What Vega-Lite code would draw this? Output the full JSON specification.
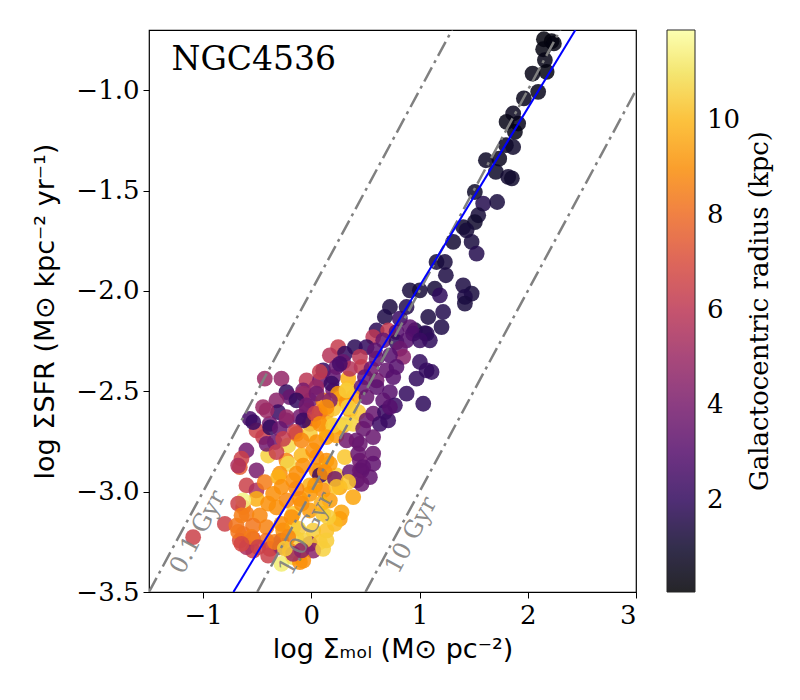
{
 "$schema": "https://vega.github.io/schema/vega-lite/v6.json",
 "width": 487, "height": 562,
 "autosize": {"type": "none"},
 "padding": {"left": 149, "top": 30, "right": 164, "bottom": 108},
 "background": "white",
 "title": {"text": "Galactocentric radius (kpc)", "orient": "right", "angle": 270, "anchor": "middle", "frame": "group",
           "font": "DejaVu Serif", "fontSize": 26, "fontWeight": "normal", "color": "black", "offset": 6, "baseline": "bottom"},
 "datasets": {
  "pts": [
   {"x":2.149,"y":-0.746,"r":0.3},{"x":2.220,"y":-0.756,"r":0.3},{"x":2.241,"y":-0.767,"r":0.4},{"x":2.142,"y":-0.796,"r":0.4},
   {"x":2.158,"y":-0.850,"r":0.5},{"x":2.044,"y":-0.917,"r":0.5},{"x":2.174,"y":-0.909,"r":0.4},{"x":2.096,"y":-1.008,"r":0.6},
   {"x":1.964,"y":-1.041,"r":0.6},{"x":1.865,"y":-1.116,"r":0.7},{"x":1.804,"y":-1.158,"r":0.5},{"x":1.911,"y":-1.166,"r":0.6},
   {"x":1.881,"y":-1.208,"r":0.5},{"x":1.798,"y":-1.274,"r":0.7},{"x":1.865,"y":-1.283,"r":1.0},{"x":1.613,"y":-1.349,"r":0.8},
   {"x":1.736,"y":-1.341,"r":0.7},{"x":1.705,"y":-1.407,"r":0.9},{"x":1.819,"y":-1.432,"r":1.1},{"x":1.853,"y":-1.439,"r":1.0},
   {"x":1.511,"y":-1.507,"r":0.9},{"x":1.588,"y":-1.565,"r":1.6},{"x":1.717,"y":-1.557,"r":1.3},{"x":1.542,"y":-1.623,"r":1.2},
   {"x":1.511,"y":-1.657,"r":1.0},{"x":1.403,"y":-1.682,"r":1.0},{"x":1.434,"y":-1.698,"r":1.2},{"x":1.311,"y":-1.756,"r":1.1},
   {"x":1.481,"y":-1.756,"r":1.3},{"x":1.527,"y":-1.814,"r":1.6},{"x":1.157,"y":-1.856,"r":1.2},{"x":1.234,"y":-1.856,"r":1.3},
   {"x":1.243,"y":-1.922,"r":1.4},{"x":1.403,"y":-1.972,"r":1.4},{"x":1.481,"y":-2.013,"r":1.3},{"x":1.419,"y":-2.030,"r":1.5},
   {"x":1.419,"y":-2.063,"r":1.3},{"x":0.910,"y":-1.997,"r":1.3},{"x":1.003,"y":-1.997,"r":1.2},{"x":1.141,"y":-1.989,"r":1.2},
   {"x":1.188,"y":-2.022,"r":1.9},{"x":0.726,"y":-2.080,"r":1.4},{"x":0.880,"y":-2.080,"r":1.6},{"x":0.679,"y":-2.130,"r":1.5},
   {"x":1.080,"y":-2.130,"r":1.4},{"x":1.218,"y":-2.105,"r":1.6},{"x":1.203,"y":-2.180,"r":1.5},{"x":0.957,"y":-2.196,"r":1.4},
   {"x":1.049,"y":-2.211,"r":1.6},
   {"x":0.818,"y":-2.138,"r":2.2},{"x":0.603,"y":-2.197,"r":1.8},{"x":0.710,"y":-2.197,"r":6.2},{"x":0.787,"y":-2.205,"r":3.0},
   {"x":0.911,"y":-2.180,"r":3.2},{"x":0.941,"y":-2.213,"r":2.8},{"x":1.065,"y":-2.213,"r":1.8},{"x":1.095,"y":-2.246,"r":1.9},
   {"x":0.572,"y":-2.230,"r":6.0},{"x":0.664,"y":-2.246,"r":3.5},{"x":0.787,"y":-2.255,"r":2.0},{"x":0.880,"y":-2.246,"r":3.0},
   {"x":1.003,"y":-2.246,"r":2.2},{"x":0.248,"y":-2.280,"r":6.3},{"x":0.402,"y":-2.280,"r":1.8},{"x":0.310,"y":-2.313,"r":2.0},
   {"x":0.510,"y":-2.280,"r":2.0},{"x":0.587,"y":-2.296,"r":3.2},{"x":0.818,"y":-2.288,"r":3.6},{"x":0.849,"y":-2.329,"r":4.5},
   {"x":0.171,"y":-2.321,"r":5.8},{"x":0.294,"y":-2.354,"r":3.5},{"x":0.449,"y":-2.329,"r":6.0},{"x":0.603,"y":-2.338,"r":3.5},
   {"x":0.726,"y":-2.321,"r":3.0},{"x":1.003,"y":-2.354,"r":2.0},{"x":1.065,"y":-2.396,"r":2.1},{"x":1.111,"y":-2.404,"r":2.0},
   {"x":0.110,"y":-2.396,"r":2.1},{"x":0.464,"y":-2.379,"r":6.2},{"x":0.556,"y":-2.388,"r":3.8},{"x":0.695,"y":-2.396,"r":3.4},
   {"x":0.787,"y":-2.379,"r":3.0},{"x":0.972,"y":-2.437,"r":2.0},{"x":-0.044,"y":-2.446,"r":6.0},{"x":0.079,"y":-2.446,"r":3.8},
   {"x":0.202,"y":-2.429,"r":3.3},{"x":0.341,"y":-2.437,"r":9.8},{"x":0.356,"y":-2.388,"r":5.8},{"x":0.495,"y":-2.429,"r":3.5},
   {"x":0.603,"y":-2.446,"r":3.8},{"x":0.757,"y":-2.429,"r":3.0},{"x":-0.075,"y":-2.496,"r":4.0},{"x":0.048,"y":-2.479,"r":5.0},
   {"x":0.202,"y":-2.496,"r":3.8},{"x":0.341,"y":-2.487,"r":10.2},{"x":0.464,"y":-2.479,"r":3.5},{"x":0.603,"y":-2.479,"r":3.2},
   {"x":0.726,"y":-2.504,"r":3.0},{"x":0.880,"y":-2.512,"r":2.0},{"x":-0.014,"y":-2.546,"r":3.8},{"x":0.110,"y":-2.546,"r":8.8},
   {"x":0.264,"y":-2.537,"r":10.5},{"x":0.387,"y":-2.529,"r":9.5},{"x":0.510,"y":-2.529,"r":3.5},{"x":0.664,"y":-2.546,"r":3.2},
   {"x":0.772,"y":-2.570,"r":2.2},{"x":1.034,"y":-2.562,"r":1.9},{"x":-0.044,"y":-2.595,"r":5.0},{"x":0.140,"y":-2.604,"r":8.7},
   {"x":0.202,"y":-2.587,"r":10.3},{"x":0.356,"y":-2.595,"r":9.3},{"x":0.433,"y":-2.604,"r":10.4},{"x":0.572,"y":-2.612,"r":3.5},
   {"x":0.680,"y":-2.604,"r":2.2},{"x":-0.014,"y":-2.662,"r":6.5},{"x":0.156,"y":-2.662,"r":10.2},{"x":0.294,"y":-2.670,"r":9.0},
   {"x":0.387,"y":-2.662,"r":10.6},{"x":0.510,"y":-2.645,"r":3.5},{"x":0.633,"y":-2.662,"r":2.3},{"x":0.710,"y":-2.645,"r":2.2},
   {"x":-0.430,"y":-2.437,"r":5.0},{"x":-0.276,"y":-2.437,"r":4.8},{"x":0.078,"y":-2.404,"r":6.3},{"x":0.232,"y":-2.379,"r":3.5},
   {"x":-0.230,"y":-2.504,"r":2.0},{"x":-0.199,"y":-2.529,"r":3.5},{"x":-0.076,"y":-2.512,"r":5.0},{"x":0.186,"y":-2.462,"r":2.2},
   {"x":0.248,"y":-2.512,"r":9.3},{"x":-0.569,"y":-2.637,"r":2.5},{"x":-0.446,"y":-2.579,"r":5.0},{"x":-0.322,"y":-2.545,"r":4.5},
   {"x":-0.307,"y":-2.604,"r":2.2},{"x":-0.137,"y":-2.545,"r":2.0},{"x":-0.045,"y":-2.570,"r":3.8},{"x":0.078,"y":-2.604,"r":8.5},
   {"x":0.325,"y":-2.554,"r":9.0},{"x":-0.507,"y":-2.695,"r":6.5},{"x":-0.384,"y":-2.662,"r":3.8},{"x":-0.230,"y":-2.645,"r":3.5},
   {"x":-0.107,"y":-2.628,"r":3.8},{"x":0.017,"y":-2.653,"r":8.5},{"x":0.263,"y":-2.678,"r":10.5},{"x":-0.600,"y":-2.795,"r":3.8},
   {"x":-0.446,"y":-2.728,"r":6.3},{"x":-0.338,"y":-2.753,"r":3.5},{"x":-0.214,"y":-2.770,"r":10.8},{"x":-0.137,"y":-2.712,"r":8.5},
   {"x":-0.014,"y":-2.712,"r":10.5},{"x":0.140,"y":-2.695,"r":10.5},{"x":0.232,"y":-2.720,"r":9.3},{"x":0.417,"y":-2.745,"r":3.5},
   {"x":0.571,"y":-2.728,"r":3.5},{"x":-0.646,"y":-2.836,"r":6.5},{"x":-0.661,"y":-2.878,"r":7.5},{"x":-0.507,"y":-2.894,"r":4.0},
   {"x":-0.399,"y":-2.820,"r":10.6},{"x":-0.230,"y":-2.845,"r":8.8},{"x":-0.214,"y":-2.861,"r":10.8},{"x":-0.091,"y":-2.820,"r":10.0},
   {"x":0.017,"y":-2.795,"r":9.0},{"x":0.140,"y":-2.845,"r":9.0},{"x":0.309,"y":-2.828,"r":10.3},{"x":0.448,"y":-2.845,"r":3.8},
   {"x":0.571,"y":-2.811,"r":3.5},{"x":-0.291,"y":-2.911,"r":9.0},{"x":-0.137,"y":-2.911,"r":9.0},{"x":0.078,"y":-2.894,"r":10.5},
   {"x":0.232,"y":-2.919,"r":10.5},{"x":0.448,"y":-2.894,"r":3.8},
   {"x":0.048,"y":-2.512,"r":3.8},{"x":0.171,"y":-2.546,"r":4.2},{"x":0.325,"y":-2.496,"r":10.5},{"x":-0.537,"y":-2.654,"r":2.2},
   {"x":-0.414,"y":-2.595,"r":5.0},{"x":-0.229,"y":-2.629,"r":4.8},{"x":-0.075,"y":-2.645,"r":2.2},{"x":0.033,"y":-2.612,"r":6.3},
   {"x":0.140,"y":-2.579,"r":9.0},{"x":0.341,"y":-2.579,"r":10.6},{"x":-0.380,"y":-2.680,"r":2.0},{"x":-0.291,"y":-2.687,"r":3.5},
   {"x":-0.152,"y":-2.703,"r":6.5},{"x":0.079,"y":-2.662,"r":9.0},{"x":0.202,"y":-2.670,"r":10.5},{"x":0.310,"y":-2.662,"r":10.8},
   {"x":0.479,"y":-2.687,"r":3.5},{"x":-0.414,"y":-2.762,"r":3.8},{"x":-0.260,"y":-2.737,"r":6.3},{"x":-0.091,"y":-2.745,"r":8.8},
   {"x":0.048,"y":-2.753,"r":9.0},{"x":0.140,"y":-2.728,"r":9.3},{"x":0.325,"y":-2.745,"r":3.8},{"x":0.448,"y":-2.762,"r":3.5},
   {"x":-0.322,"y":-2.803,"r":6.3},{"x":0.048,"y":-2.828,"r":9.0},{"x":0.171,"y":-2.861,"r":9.3},{"x":0.433,"y":-2.811,"r":3.5},
   {"x":0.048,"y":-2.895,"r":9.0},{"x":0.171,"y":-2.928,"r":10.5},{"x":0.464,"y":-2.895,"r":3.5},
   {"x":-0.676,"y":-2.870,"r":5.5},{"x":-0.075,"y":-2.870,"r":9.0},{"x":0.079,"y":-2.919,"r":2.2},{"x":0.356,"y":-2.903,"r":3.5},
   {"x":0.479,"y":-2.878,"r":3.3},{"x":0.541,"y":-2.928,"r":3.3},{"x":-0.599,"y":-2.969,"r":6.5},{"x":-0.507,"y":-2.994,"r":5.5},
   {"x":-0.430,"y":-2.953,"r":8.5},{"x":-0.168,"y":-2.944,"r":9.0},{"x":-0.014,"y":-2.969,"r":9.8},{"x":0.109,"y":-2.994,"r":9.0},
   {"x":0.263,"y":-2.978,"r":9.5},{"x":0.387,"y":-3.027,"r":9.5},{"x":0.464,"y":-2.961,"r":3.5},{"x":-0.630,"y":-3.077,"r":8.3},
   {"x":-0.507,"y":-3.036,"r":9.8},{"x":-0.353,"y":-3.011,"r":9.0},{"x":-0.229,"y":-3.044,"r":8.8},{"x":-0.106,"y":-3.036,"r":9.0},
   {"x":-0.014,"y":-3.011,"r":9.2},{"x":0.171,"y":-3.044,"r":9.3},{"x":0.279,"y":-3.103,"r":9.5},{"x":0.263,"y":-3.136,"r":9.3},
   {"x":-0.799,"y":-3.161,"r":6.5},{"x":-0.692,"y":-3.169,"r":8.3},{"x":-0.599,"y":-3.111,"r":8.5},{"x":-0.476,"y":-3.119,"r":8.8},
   {"x":-0.322,"y":-3.078,"r":9.0},{"x":-0.168,"y":-3.111,"r":10.3},{"x":-0.014,"y":-3.094,"r":9.3},{"x":0.109,"y":-3.111,"r":10.3},
   {"x":0.217,"y":-3.161,"r":10.0},{"x":-0.630,"y":-3.211,"r":8.0},{"x":-0.538,"y":-3.169,"r":8.3},{"x":-0.414,"y":-3.177,"r":8.7},
   {"x":-0.276,"y":-3.161,"r":9.0},{"x":-0.168,"y":-3.177,"r":10.5},{"x":0.017,"y":-3.194,"r":10.5},{"x":0.140,"y":-3.194,"r":10.2},
   {"x":-0.661,"y":-3.244,"r":7.0},{"x":-0.538,"y":-3.235,"r":6.8},{"x":-0.414,"y":-3.244,"r":8.2},{"x":-0.276,"y":-3.244,"r":4.0},
   {"x":-0.137,"y":-3.235,"r":10.6},{"x":-0.014,"y":-3.260,"r":4.0},{"x":0.079,"y":-3.252,"r":10.3},{"x":-0.538,"y":-3.294,"r":6.5},
   {"x":-0.383,"y":-3.285,"r":6.8},{"x":-0.291,"y":-3.277,"r":4.5},{"x":-0.199,"y":-3.294,"r":8.5},{"x":-0.106,"y":-3.310,"r":10.6},
   {"x":0.017,"y":-3.294,"r":4.5},{"x":-0.399,"y":-3.319,"r":6.5},{"x":-0.276,"y":-3.360,"r":11.3},{"x":-0.168,"y":-3.327,"r":10.8},
   {"x":-0.075,"y":-3.344,"r":9.0},
   {"x":-1.092,"y":-3.227,"r":6.5},{"x":-0.630,"y":-3.044,"r":11.5},{"x":0.263,"y":-2.363,"r":2.5},{"x":-0.599,"y":-3.277,"r":5.5},
   {"x":-0.106,"y":-3.351,"r":9.0},{"x":-0.168,"y":-3.310,"r":5.0},{"x":0.109,"y":-3.285,"r":10.6},{"x":0.140,"y":-3.243,"r":10.5},
   {"x":0.418,"y":-2.944,"r":3.5},{"x":0.572,"y":-2.861,"r":3.3},{"x":0.726,"y":-2.579,"r":3.0},
   {"x":-0.306,"y":-2.927,"r":9.8},{"x":0.125,"y":-2.902,"r":9.0},{"x":0.218,"y":-2.936,"r":3.8},{"x":0.341,"y":-2.952,"r":10.3},
   {"x":-0.275,"y":-2.977,"r":9.0},{"x":-0.137,"y":-2.985,"r":8.8},{"x":0.033,"y":-2.969,"r":9.2},{"x":0.233,"y":-2.977,"r":10.2},
   {"x":-0.676,"y":-3.060,"r":6.5},{"x":-0.399,"y":-3.060,"r":9.0},{"x":-0.090,"y":-3.060,"r":9.0},{"x":0.094,"y":-3.060,"r":9.8},
   {"x":-0.645,"y":-3.118,"r":8.5},{"x":-0.183,"y":-3.127,"r":9.0},{"x":0.156,"y":-3.127,"r":10.5},{"x":-0.676,"y":-3.201,"r":8.3},
   {"x":-0.553,"y":-3.226,"r":8.5},{"x":-0.260,"y":-3.193,"r":9.0},{"x":-0.121,"y":-3.185,"r":10.5},{"x":-0.645,"y":-3.260,"r":6.8},
   {"x":-0.491,"y":-3.276,"r":6.5},{"x":-0.337,"y":-3.251,"r":8.5},{"x":-0.214,"y":-3.226,"r":8.8},{"x":-0.060,"y":-3.243,"r":10.6},
   {"x":-0.244,"y":-3.284,"r":10.5},{"x":-0.090,"y":-3.293,"r":4.5}
  ],
  "tdep": [
   {"x":-1.5,"y":-3.5,"x2":1.30,"y2":-0.70},
   {"x":-0.5,"y":-3.5,"x2":2.30,"y2":-0.70},
   {"x":0.5,"y":-3.5,"x2":3.0,"y2":-1.0}
  ],
  "fit": [
   {"x":-0.72,"y":-3.5,"x2":2.44,"y2":-0.70}
  ],
  "labels": [
   {"x":-1.046,"y":-3.202,"t":"0.1 Gyr"},
   {"x":-0.044,"y":-3.21,"t":"1.0 Gyr"},
   {"x":0.926,"y":-3.218,"t":"10 Gyr"}
  ],
  "name": [
   {"x":-1.292,"y":-0.900,"t":"NGC4536"}
  ]
 },
 "config": {
  "view": {"stroke": "black", "strokeWidth": 1.2},
  "axis": {
   "grid": false, "domain": false, "tickColor": "black", "tickSize": 6, "tickWidth": 1,
   "labelFont": "DejaVu Serif", "labelFontSize": 26, "labelColor": "black", "labelPadding": 4,
   "titleFont": "DejaVu Sans", "titleFontSize": 27, "titleFontWeight": "normal", "titleColor": "black"
  }
 },
 "encoding": {
  "x": {"field": "x", "type": "quantitative",
        "scale": {"domain": [-1.5, 3], "nice": false, "zero": false},
        "axis": {"values": [-1, 0, 1, 2, 3], "format": "d", "title": "log Σₘₒₗ (M⊙ pc⁻²)", "titlePadding": 8}},
  "y": {"field": "y", "type": "quantitative",
        "scale": {"domain": [-3.5, -0.70], "nice": false, "zero": false},
        "axis": {"values": [-3.5, -3, -2.5, -2, -1.5, -1], "format": ".1f", "title": "log ΣSFR (M⊙ kpc⁻² yr⁻¹)", "titlePadding": 16}}
 },
 "layer": [
  {
   "data": {"name": "pts"},
   "mark": {"type": "circle", "size": 250, "opacity": 0.85, "clip": true},
   "encoding": {
    "color": {"field": "r", "type": "quantitative",
     "scale": {"scheme": "inferno", "domain": [0.06, 11.9], "nice": false, "zero": false},
     "legend": {"title": null, "orient": "right", "offset": 31, "direction": "vertical",
      "gradientLength": 562, "gradientThickness": 28, "gradientStrokeColor": "black", "gradientStrokeWidth": 1,
      "values": [2, 4, 6, 8, 10], "labelFont": "DejaVu Serif", "labelFontSize": 26, "labelOffset": 12,
      "labelOverlap": false, "labelColor": "black", "padding": 0}
    }
   }
  },
  {
   "data": {"name": "tdep"},
   "mark": {"type": "rule", "color": "gray", "strokeWidth": 2.5, "strokeDash": [16, 5, 3, 5], "clip": true},
   "encoding": {"x2": {"field": "x2"}, "y2": {"field": "y2"}}
  },
  {
   "data": {"name": "fit"},
   "mark": {"type": "rule", "color": "blue", "strokeWidth": 2, "clip": true},
   "encoding": {"x2": {"field": "x2"}, "y2": {"field": "y2"}}
  },
  {
   "data": {"name": "labels"},
   "mark": {"type": "text", "font": "DejaVu Serif", "fontSize": 24, "color": "gray", "opacity": 0.9, "angle": 298.3, "align": "center", "baseline": "middle"},
   "encoding": {"text": {"field": "t"}}
  },
  {
   "data": {"name": "name"},
   "mark": {"type": "text", "font": "DejaVu Serif", "fontSize": 33, "color": "black", "align": "left", "baseline": "alphabetic"},
   "encoding": {"text": {"field": "t"}}
  }
 ]
}
